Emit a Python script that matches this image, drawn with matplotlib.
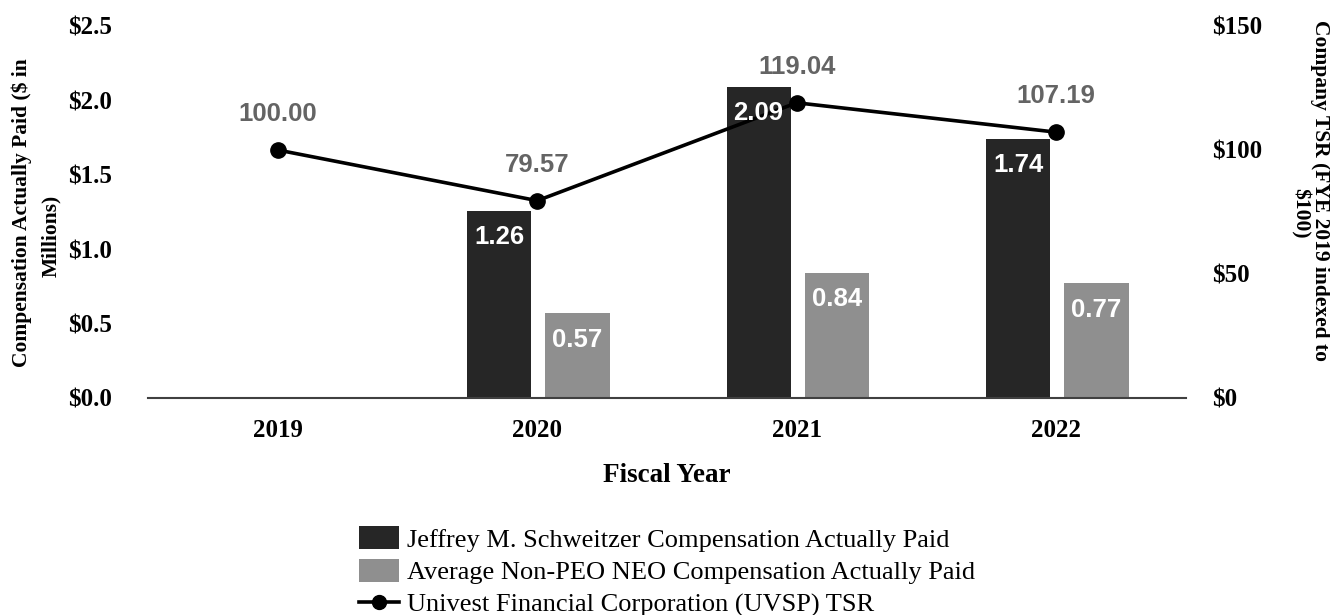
import numpy as np
import matplotlib.pyplot as plt
from matplotlib.patches import Patch
from matplotlib.lines import Line2D

years = ['2019', '2020', '2021', '2022']
peo_cap = [np.nan, 1.26, 2.09, 1.74]
neo_cap = [np.nan, 0.57, 0.84, 0.77]
tsr = [100.00, 79.57, 119.04, 107.19]

left_ticks = ['$0.0', '$0.5', '$1.0', '$1.5', '$2.0', '$2.5']
right_ticks = ['$0', '$50', '$100', '$150']

serif = 'Liberation Serif'
sans = 'Liberation Sans'
dark = '#262626'
light = '#8f8f8f'
label_grey = '#646464'

W, H = 1330, 615
fig = plt.figure(figsize=(W / 100, H / 100), dpi=100)
ax = fig.add_axes([148 / W, 1 - 398 / H, (1186 - 148) / W, (398 - 26) / H])
ax2 = ax.twinx()

x = np.arange(len(years))
bw = 0.247
off_peo, off_neo = -0.147, 0.155
ax.bar(x + off_peo, peo_cap, bw, color=dark, zorder=2)
ax.bar(x + off_neo, neo_cap, bw, color=light, zorder=2)

ax.set_xlim(-0.5, 3.5)
ax.set_ylim(0, 2.5)
ax.set_yticks(np.arange(0, 2.51, 0.5))
ax.set_yticklabels(left_ticks)
ax.set_xticks(x)
ax.set_xticklabels(years)

ax2.plot(x, tsr, color='black', lw=2.6, marker='o', ms=11, zorder=3)
ax2.set_ylim(0, 150)
ax2.set_yticks([0, 50, 100, 150])
ax2.set_yticklabels(right_ticks)

for a in (ax, ax2):
    for s in ('top', 'left', 'right', 'bottom'):
        a.spines[s].set_visible(False)
    a.tick_params(length=0)
ax.spines['bottom'].set_visible(True)
ax.spines['bottom'].set_color('#404040')
ax.spines['bottom'].set_linewidth(1.5)

ax.tick_params(axis='y', pad=26)
ax.tick_params(axis='x', pad=15)
ax2.tick_params(axis='y', pad=19)
for lab in ax.get_yticklabels() + ax.get_xticklabels() + ax2.get_yticklabels():
    lab.set_fontfamily(serif)
    lab.set_fontweight('bold')
    lab.set_fontsize(18)

ax.set_xlabel('Fiscal Year', fontfamily=serif, fontweight='bold', fontsize=19.5, labelpad=15)

# white value labels just under the bar tops, drawn above the TSR line
for offs, vals in ((off_peo, peo_cap), (off_neo, neo_cap)):
    for xi, v in zip(x, vals):
        if np.isnan(v):
            continue
        ax2.annotate(f'{v:.2f}', (xi + offs, v), xycoords=ax.transData,
                     xytext=(0, -19), textcoords='offset points',
                     ha='center', va='center', color='white', fontfamily=sans,
                     fontweight='bold', fontsize=18.5, zorder=5)

for xi, v in zip(x, tsr):
    ax2.annotate(f'{v:.2f}', (xi, v), xytext=(0, 26), textcoords='offset points',
                 ha='center', va='center', color=label_grey, fontfamily=sans,
                 fontweight='bold', fontsize=18.5)

# wrapped axis titles
title_kw = dict(ha='center', va='center', fontfamily=serif, fontweight='bold', fontsize=15.5)
fig.text(22 / W, 1 - 213 / H, 'Compensation Actually Paid ($ in', rotation=90, **title_kw)
fig.text(51 / W, 1 - 236 / H, 'Millions)', rotation=90, **title_kw)
fig.text(1320 / W, 1 - 191 / H, 'Company TSR (FYE 2019 indexed to', rotation=270, **title_kw)
fig.text(1300 / W, 1 - 213 / H, '$100)', rotation=270, **title_kw)

handles = [
    Patch(facecolor=dark, label='Jeffrey M. Schweitzer Compensation Actually Paid'),
    Patch(facecolor=light, label='Average Non-PEO NEO Compensation Actually Paid'),
    Line2D([], [], color='black', lw=2.6, marker='o', ms=10,
           label='Univest Financial Corporation (UVSP) TSR'),
]
fs = 19
em = fs * 100 / 72
fig.legend(handles=handles, loc='upper left', bbox_to_anchor=(359 / W, 1 - 526 / H),
           frameon=False, borderpad=0, borderaxespad=0,
           handlelength=40 / em, handleheight=26 / em, handletextpad=8 / em,
           labelspacing=0.26, prop={'family': serif, 'size': fs})

fig.savefig('out.png', dpi=100)
